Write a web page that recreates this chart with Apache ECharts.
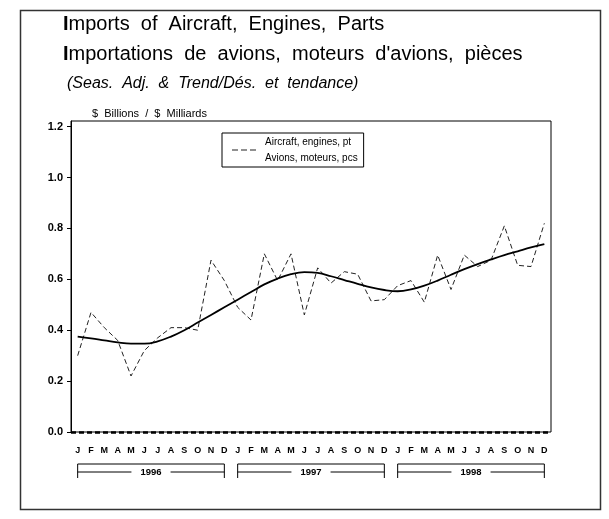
<!DOCTYPE html>
<html><head><meta charset="utf-8">
<script src="https://cdn.jsdelivr.net/npm/echarts@6/dist/echarts.min.js"></script>
<style>html,body{margin:0;padding:0;background:#fff}#c{width:609px;height:519px}</style>
</head><body><div id="c"></div>
<script>
const monthLetters = ['J','F','M','A','M','J','J','A','S','O','N','D'];
const years = ['1996','1997','1998'];
const yTickLabels = ['0.0','0.2','0.4','0.6','0.8','1.0','1.2'];
const seriesNames = ['Aircraft, engines, pt', 'Avions, moteurs, pcs'];
// Seasonally adjusted (dashed)
const seasAdj = [
  0.30, 0.47, 0.41, 0.36, 0.22, 0.32, 0.37, 0.41, 0.41, 0.40, 0.675, 0.595,
  0.49, 0.44, 0.70, 0.595, 0.70, 0.46, 0.645, 0.585, 0.63, 0.62, 0.515, 0.52,
  0.575, 0.595, 0.51, 0.695, 0.56, 0.695, 0.65, 0.675, 0.81, 0.655, 0.65, 0.82
];
// Trend (solid)
const trend = [
  0.375, 0.368, 0.36, 0.352, 0.347, 0.347, 0.356, 0.375, 0.40, 0.43, 0.46, 0.49,
  0.52, 0.55, 0.58, 0.603, 0.62, 0.628, 0.625, 0.612, 0.597, 0.582, 0.568, 0.558,
  0.553, 0.56, 0.575, 0.595, 0.618, 0.64, 0.66, 0.678, 0.695, 0.71, 0.725, 0.738
];

const categories = [];
years.forEach(y => monthLetters.forEach((m, i) => categories.push(y + '-' + (i + 1) + '-' + m)));

const chart = echarts.init(document.getElementById('c'), null, {renderer: 'canvas'});
const FONT = 'Liberation Sans, Arial, Helvetica, sans-serif';

const option = {
  animation: false,
  backgroundColor: '#fff',
  title: [
    {text: '{b|I}mports  of  Aircraft,  Engines,  Parts', left: 58, top: 9,
     textStyle: {fontFamily: FONT, fontSize: 20, fontWeight: 'normal', color: '#000',
       rich: {b: {fontFamily: FONT, fontSize: 20, fontWeight: 'bold', color: '#000'}}}},
    {text: '{b|I}mportations  de  avions,  moteurs  d\'avions,  pièces', left: 58, top: 39,
     textStyle: {fontFamily: FONT, fontSize: 20, fontWeight: 'normal', color: '#000',
       rich: {b: {fontFamily: FONT, fontSize: 20, fontWeight: 'bold', color: '#000'}}}},
    {text: '(Seas.  Adj.  &  Trend/Dés.  et  tendance)', left: 62, top: 71,
     textStyle: {fontFamily: FONT, fontSize: 16, fontStyle: 'italic', fontWeight: 'normal', color: '#000'}},
    {text: '$  Billions  /  $  Milliards', left: 87, top: 103,
     textStyle: {fontFamily: FONT, fontSize: 11, fontWeight: 'normal', color: '#000'}}
  ],
  legend: {
    data: [seriesNames[0]],
    left: 222, top: 133,
    orient: 'vertical',
    borderColor: '#000', borderWidth: 1,
    padding: [1, 6, 1, 10],
    icon: 'path://M0,0h6v1.2h-6z M9,0h6v1.2h-6z M18,0h6v1.2h-6z',
    itemWidth: 24, itemHeight: 1.2, itemGap: 4,
    formatter: () => seriesNames.join('\n'),
    textStyle: {fontFamily: FONT, fontSize: 10, lineHeight: 16, color: '#000', padding: [0, 0, 0, 4]}
  },
  grid: {left: 71, right: 58, top: 121, bottom: 87, show: true, borderColor: '#000', borderWidth: 1, backgroundColor: 'transparent'},
  xAxis: {
    type: 'category', data: categories, boundaryGap: true,
    axisLine: {show: false}, axisTick: {show: false}, splitLine: {show: false},
    axisLabel: {interval: 0, margin: 14, fontFamily: FONT, fontSize: 9, fontWeight: 'bold', color: '#000',
      formatter: v => v.split('-')[2]}
  },
  yAxis: {
    type: 'value', min: 0, max: 1.222, interval: 0.2,
    axisLine: {show: true, lineStyle: {color: '#000', width: 1}},
    axisTick: {show: true, length: 4, lineStyle: {color: '#000'}},
    splitLine: {show: false},
    axisLabel: {showMaxLabel: false, margin: 8, fontFamily: FONT, fontSize: 11, fontWeight: 'bold', color: '#000',
      formatter: v => yTickLabels[Math.round(v / 0.2)] || ''}
  },
  series: [
    {
      name: seriesNames[0], type: 'line', data: seasAdj, symbol: 'none',
      lineStyle: {color: '#222', width: 1, type: [5, 3]},
      itemStyle: {color: '#222'},
      markLine: {silent: true, symbol: 'none', label: {show: false},
        lineStyle: {color: '#000', width: 2.5, type: [5, 3]},
        data: [{yAxis: 0}]}
    },
    {
      name: 'trend', type: 'line', data: trend, symbol: 'none', smooth: 0.4,
      lineStyle: {color: '#000', width: 1.8}, itemStyle: {color: '#000'}
    }
  ]
};
chart.setOption(option);

// Year brackets below month labels, placed through the axis scale
const g = [];
const yTop = 464, yMid = 472, yBot = 478;
years.forEach((yr, k) => {
  const x0 = chart.convertToPixel({xAxisIndex: 0}, categories[k * 12]);
  const x1 = chart.convertToPixel({xAxisIndex: 0}, categories[k * 12 + 11]);
  g.push({type: 'line', shape: {x1: x0, y1: yTop, x2: x1, y2: yTop}, style: {stroke: '#000', lineWidth: 1}});
  g.push({type: 'line', shape: {x1: x0, y1: yMid, x2: x1, y2: yMid}, style: {stroke: '#000', lineWidth: 1}});
  g.push({type: 'line', shape: {x1: x0, y1: yTop, x2: x0, y2: yBot}, style: {stroke: '#000', lineWidth: 1}});
  g.push({type: 'line', shape: {x1: x1, y1: yTop, x2: x1, y2: yBot}, style: {stroke: '#000', lineWidth: 1}});
  g.push({type: 'text', x: (x0 + x1) / 2, y: yMid, style: {text: yr, fontFamily: FONT, fontSize: 9.5, fontWeight: 'bold',
    fill: '#000', align: 'center', verticalAlign: 'middle', backgroundColor: '#fff', padding: [0, 9]}, z: 10});
});
g.push({type: 'rect', shape: {x: 20.5, y: 10.5, width: 580, height: 499}, style: {fill: 'none', stroke: '#333', lineWidth: 1.5}});
chart.setOption({graphic: g});
</script></body></html>
